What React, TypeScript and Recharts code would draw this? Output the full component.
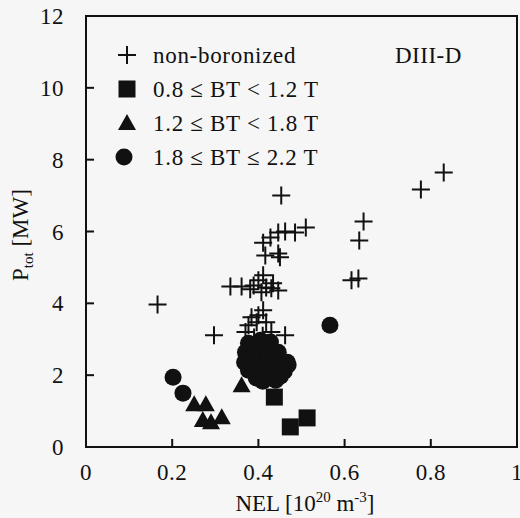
import React from "react";
import {
  ScatterChart,
  Scatter,
  XAxis,
  YAxis,
  ReferenceArea,
  Customized,
} from "recharts";

// ---------- data ----------
const xTicks = [0, 0.2, 0.4, 0.6, 0.8, 1];
const yTicks = [0, 2, 4, 6, 8, 10, 12];
const xDomain = [0, 1];
const yDomain = [0, 12];

const nonBoronizedNEL = [
  0.83, 0.777, 0.644, 0.634, 0.51, 0.616, 0.632, 0.453, 0.462, 0.485, 0.446,
  0.428, 0.411, 0.416, 0.446, 0.45, 0.335, 0.361, 0.381, 0.389, 0.4, 0.411,
  0.418, 0.43, 0.446, 0.434, 0.407, 0.411, 0.4, 0.384, 0.396, 0.418, 0.377,
  0.37, 0.297, 0.462, 0.43, 0.166, 0.39, 0.41,
];
const nonBoronizedP = [
  7.64, 7.17, 6.28, 5.75, 6.11, 4.64, 4.69, 7.0, 6.0, 5.97, 5.97, 5.83, 5.69,
  5.33, 5.39, 5.28, 4.47, 4.47, 4.39, 4.5, 4.64, 4.78, 4.44, 4.42, 4.36, 4.56,
  4.31, 3.81, 3.67, 3.61, 3.47, 3.47, 3.39, 3.2, 3.11, 3.11, 3.2, 3.97, 3.05,
  3.1,
];

const lowBtNEL = [0.437, 0.474, 0.513];
const lowBtP = [1.39, 0.56, 0.81];

const midBtNEL = [0.251, 0.278, 0.271, 0.29, 0.315, 0.361];
const midBtP = [1.19, 1.19, 0.75, 0.69, 0.83, 1.72];

const highBtNEL = [
  0.377, 0.405, 0.428, 0.37, 0.395, 0.423, 0.446, 0.368, 0.393, 0.418, 0.444,
  0.467, 0.377, 0.405, 0.432, 0.46, 0.469, 0.395, 0.423, 0.451, 0.384, 0.411,
  0.437, 0.41, 0.44, 0.202, 0.225, 0.566,
];
const highBtP = [
  2.89, 2.97, 2.92, 2.64, 2.69, 2.67, 2.64, 2.36, 2.42, 2.39, 2.42, 2.36, 2.14,
  2.14, 2.14, 2.11, 2.28, 1.92, 1.92, 1.97, 2.5, 2.83, 2.28, 1.83, 1.86, 1.94,
  1.5, 3.39,
];

const legendLabels = [
  "non-boronized",
  "0.8 \u2264 BT < 1.2 T",
  "1.2 \u2264 BT < 1.8 T",
  "1.8 \u2264 BT \u2264 2.2 T",
];
const deviceLabel = "DIII-D";

const zip = (xs: number[], ys: number[]) =>
  xs.map((x, i) => ({ x, y: ys[i] }));

const nonBoronized = zip(nonBoronizedNEL, nonBoronizedP);
const lowBt = zip(lowBtNEL, lowBtP);
const midBt = zip(midBtNEL, midBtP);
const highBt = zip(highBtNEL, highBtP);

// ---------- styling ----------
const FONT = "Liberation Serif";
const INK = "#111";
const TICK = 8;
const TICKW = 2;

const CrossShape = (p: any) => (
  <path
    d={`M${p.cx - 9},${p.cy}H${p.cx + 9}M${p.cx},${p.cy - 9}V${p.cy + 9}`}
    stroke={INK}
    strokeWidth={2}
    fill="none"
  />
);
const SquareShape = (p: any) => (
  <rect x={p.cx - 8.5} y={p.cy - 8.5} width={17} height={17} fill={INK} />
);
const TriangleShape = (p: any) => (
  <path
    d={`M${p.cx},${p.cy - 9}L${p.cx + 9},${p.cy + 7}L${p.cx - 9},${p.cy + 7}Z`}
    fill={INK}
  />
);
const CircleShape = (p: any) => (
  <circle cx={p.cx} cy={p.cy} r={8.5} fill={INK} />
);

const BottomTick = (p: any) => (
  <g>
    <rect x={p.x - TICKW / 2} y={p.y - TICK} width={TICKW} height={TICK} fill={INK} stroke="none" />
    <text
      x={p.x}
      y={p.y + 33}
      textAnchor="middle"
      fontFamily={FONT}
      fontSize={23}
      letterSpacing={0.5}
      fill={INK}
      stroke="none"
    >
      {p.payload.value}
    </text>
  </g>
);
const LeftTick = (p: any) => (
  <g>
    <rect x={p.x} y={p.y - TICKW / 2} width={TICK} height={TICKW} fill={INK} stroke="none" />
    <text
      x={p.x - 22}
      y={p.y + 8}
      textAnchor="end"
      fontFamily={FONT}
      fontSize={23}
      letterSpacing={0.5}
      fill={INK}
      stroke="none"
    >
      {p.payload.value}
    </text>
  </g>
);
const TopTick = (p: any) => (
  <rect x={p.x - TICKW / 2} y={p.y} width={TICKW} height={TICK} fill={INK} stroke="none" />
);
const RightTick = (p: any) => (
  <rect x={p.x - TICK} y={p.y - TICKW / 2} width={TICK} height={TICKW} fill={INK} stroke="none" />
);

const Overlay = () => {
  const rowsY = [55, 89, 123, 157];
  const mx = 127;
  const markers = [
    <CrossShape key="m0" cx={mx} cy={rowsY[0]} />,
    <SquareShape key="m1" cx={mx} cy={rowsY[1]} />,
    <TriangleShape key="m2" cx={mx} cy={rowsY[2]} />,
    <CircleShape key="m3" cx={mx - 3} cy={rowsY[3]} />,
  ];
  return (
    <g>
      {markers}
      {legendLabels.map((t, i) => (
        <text
          key={t}
          x={153}
          y={rowsY[i] + 8}
          fontFamily={FONT}
          fontSize={23}
          letterSpacing={0.7}
          fill={INK}
        >
          {t}
        </text>
      ))}
      <text x={395} y={63} fontFamily={FONT} fontSize={23} letterSpacing={0.5} fill={INK}>
        {deviceLabel}
      </text>
      <text
        transform="translate(28,235) rotate(-90)"
        textAnchor="middle"
        fontFamily={FONT}
        fontSize={23}
        fill={INK}
      >
        P
        <tspan fontSize={15} dy={5}>tot</tspan>
        <tspan dy={-5}> [MW]</tspan>
      </text>
      <text x={305} y={511} textAnchor="middle" fontFamily={FONT} fontSize={23} fill={INK}>
        NEL [10
        <tspan fontSize={15} dy={-9}>20</tspan>
        <tspan dy={9}> m</tspan>
        <tspan fontSize={15} dy={-9}>-3</tspan>
        <tspan dy={9}>]</tspan>
      </text>
    </g>
  );
};

export default function App() {
  return (
    <div
      style={{
        position: "absolute",
        left: 0,
        top: 0,
        width: 520,
        height: 518,
        overflow: "hidden",
        background: "#f6f6f6",
      }}
    >
      <ScatterChart
        width={520}
        height={518}
        margin={{ top: 15, right: 2, bottom: 0, left: 0 }}
      >
        <XAxis
          xAxisId="b"
          type="number"
          dataKey="x"
          domain={xDomain}
          ticks={xTicks}
          orientation="bottom"
          height={71}
          tickSize={0}
          tickMargin={0}
          tickLine={false}
          tick={BottomTick}
          axisLine={false}
          interval={0}
        />
        <XAxis
          xAxisId="t"
          type="number"
          dataKey="x"
          domain={xDomain}
          ticks={xTicks}
          orientation="top"
          height={1}
          tickSize={0}
          tickMargin={0}
          tickLine={false}
          tick={TopTick}
          axisLine={false}
          interval={0}
        />
        <YAxis
          yAxisId="l"
          type="number"
          dataKey="y"
          domain={yDomain}
          ticks={yTicks}
          orientation="left"
          width={86}
          tickSize={0}
          tickMargin={0}
          tickLine={false}
          tick={LeftTick}
          axisLine={false}
          interval={0}
        />
        <YAxis
          yAxisId="r"
          type="number"
          dataKey="y"
          domain={yDomain}
          ticks={yTicks}
          orientation="right"
          width={1}
          tickSize={0}
          tickMargin={0}
          tickLine={false}
          tick={RightTick}
          axisLine={false}
          interval={0}
        />
        <ReferenceArea
          xAxisId="b"
          yAxisId="l"
          x1={xDomain[0]}
          x2={xDomain[1]}
          y1={yDomain[0]}
          y2={yDomain[1]}
          fill="none"
          fillOpacity={0}
          stroke={INK}
          strokeWidth={2}
          strokeOpacity={1}
          ifOverflow="visible"
        />
        <Scatter xAxisId="b" yAxisId="l" data={nonBoronized} shape={CrossShape} isAnimationActive={false} />
        <Scatter xAxisId="b" yAxisId="l" data={highBt} shape={CircleShape} isAnimationActive={false} />
        <Scatter xAxisId="b" yAxisId="l" data={midBt} shape={TriangleShape} isAnimationActive={false} />
        <Scatter xAxisId="b" yAxisId="l" data={lowBt} shape={SquareShape} isAnimationActive={false} />
        <Customized component={Overlay} />
      </ScatterChart>
    </div>
  );
}
